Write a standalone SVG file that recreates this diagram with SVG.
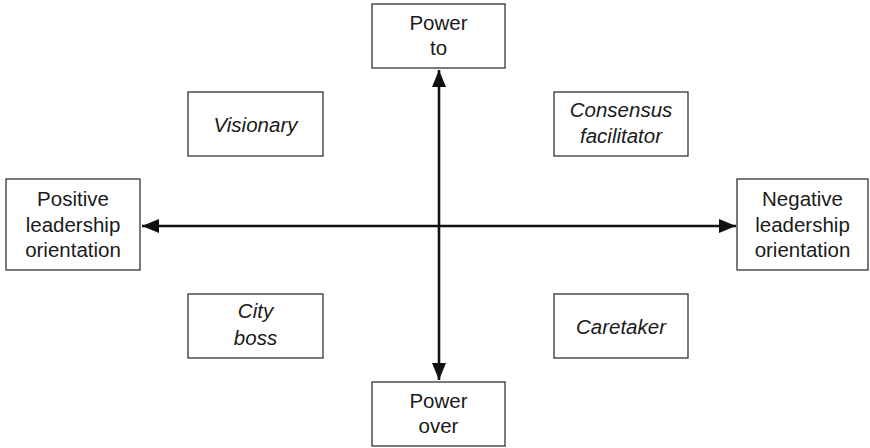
<svg xmlns="http://www.w3.org/2000/svg" width="870" height="448" viewBox="0 0 870 448">
  <style>
    .box { fill: #ffffff; stroke: #222222; stroke-width: 1.2; }
    .lbl { font-family: "Liberation Sans", Arial, sans-serif; font-size: 20.5px; fill: #1a1a1a; text-anchor: middle; }
    .it { font-style: italic; }
    .axis { stroke: #111111; stroke-width: 2.6; fill: none; }
  </style>
  <defs>
    <marker id="head" markerUnits="userSpaceOnUse" markerWidth="18" markerHeight="14" viewBox="0 0 18 14" refX="17" refY="7" orient="auto-start-reverse">
      <path d="M0,0 L17,7 L0,14 Z" fill="#111111"/>
    </marker>
  </defs>
  <rect width="870" height="448" fill="#ffffff"/>

  <g id="connectors">
    <line class="axis" x1="439" y1="70" x2="439" y2="380" marker-start="url(#head)" marker-end="url(#head)"/>
    <line class="axis" x1="142" y1="226" x2="736" y2="226" marker-start="url(#head)" marker-end="url(#head)"/>
  </g>

  <g id="power-to">
    <rect class="box" x="372" y="4" width="133" height="64"/>
    <text class="lbl" x="438.5" y="30">Power</text>
    <text class="lbl" x="438.5" y="55">to</text>
  </g>

  <g id="power-over">
    <rect class="box" x="372" y="382" width="133" height="64"/>
    <text class="lbl" x="438.5" y="408">Power</text>
    <text class="lbl" x="438.5" y="433">over</text>
  </g>

  <g id="positive">
    <rect class="box" x="6" y="179" width="134" height="91"/>
    <text class="lbl" x="73" y="206">Positive</text>
    <text class="lbl" x="73" y="232">leadership</text>
    <text class="lbl" x="73" y="257">orientation</text>
  </g>

  <g id="negative">
    <rect class="box" x="737" y="179" width="131" height="91"/>
    <text class="lbl" x="802.5" y="206">Negative</text>
    <text class="lbl" x="802.5" y="232">leadership</text>
    <text class="lbl" x="802.5" y="257">orientation</text>
  </g>

  <g id="visionary">
    <rect class="box" x="188" y="92" width="135" height="64"/>
    <text class="lbl it" x="255.5" y="132">Visionary</text>
  </g>

  <g id="consensus">
    <rect class="box" x="554" y="92" width="134" height="64"/>
    <text class="lbl it" x="621" y="117">Consensus</text>
    <text class="lbl it" x="621" y="143">facilitator</text>
  </g>

  <g id="city-boss">
    <rect class="box" x="188" y="294" width="135" height="64"/>
    <text class="lbl it" x="255.5" y="318">City</text>
    <text class="lbl it" x="255.5" y="345">boss</text>
  </g>

  <g id="caretaker">
    <rect class="box" x="554" y="294" width="134" height="64"/>
    <text class="lbl it" x="621" y="334">Caretaker</text>
  </g>
</svg>
